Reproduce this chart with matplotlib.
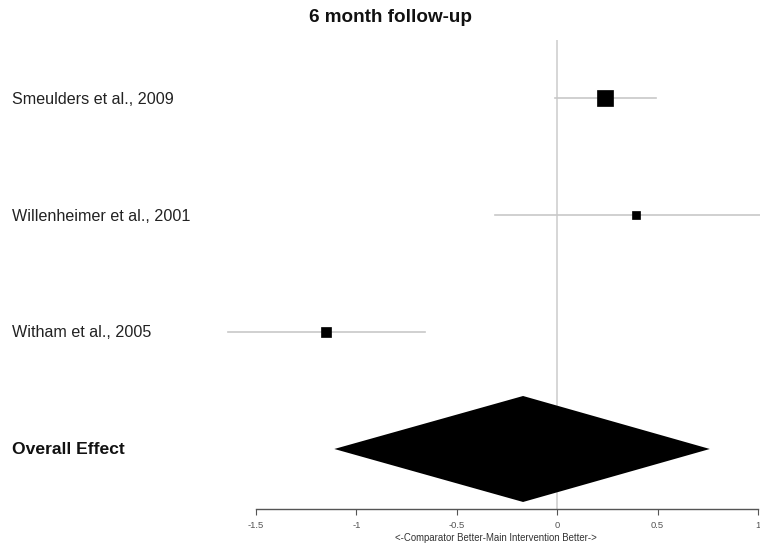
import matplotlib
matplotlib.use("Agg")
import matplotlib.pyplot as plt
import numpy as np

plt.rcParams["font.family"] = ["Liberation Sans", "DejaVu Sans"]

# Study-level effect sizes with 95% confidence intervals
studies = ["Smeulders et al., 2009", "Willenheimer et al., 2001", "Witham et al., 2005"]
effects = [0.24, 0.39, -1.15]
ci_lower = [-0.01, -0.31, -1.64]
ci_upper = [0.49, 1.25, -0.66]
weights = [61.0, 17.0, 22.0]

# Pooled estimate
overall_label = "Overall Effect"
overall_effect = -0.17
overall_lower = -1.11
overall_upper = 0.76

tick_values = [-1.5, -1, -0.5, 0, 0.5, 1]
tick_labels = ["-1.5", "-1", "-0.5", "0", "0.5", "1"]

W, H = 760, 549
fig = plt.figure(figsize=(W / 100, H / 100), dpi=100)
ax = fig.add_axes([256 / W, 40 / H, (758 - 256) / W, 469 / H])
ax.set_xlim(-1.5, 1)
ax.set_ylim(0.487, 4.496)

n = len(studies)
rows = np.arange(n, 0, -1) + 1  # study rows above the pooled row

# Line of no effect
ax.axvline(0, color="#d0d0d0", lw=1.2, zorder=1)

for y, est, lo, hi, w in zip(rows, effects, ci_lower, ci_upper, weights):
    ax.plot([lo, hi], [y, y], color="#c8c8c8", lw=1.2, clip_on=False, zorder=2)
    ax.plot(est, y, marker="s", color="black", markersize=1.4 * np.sqrt(w),
            markeredgewidth=0.5, clip_on=False, zorder=3)

# Pooled diamond
half_h = 0.453
ax.fill([overall_lower, overall_effect, overall_upper, overall_effect],
        [1, 1 + half_h, 1, 1 - half_h], color="black", lw=0, zorder=3)

# Axes styling
for side in ["top", "right", "left"]:
    ax.spines[side].set_visible(False)
ax.spines["bottom"].set_bounds(-1.5, 1)
ax.spines["bottom"].set_color("#555555")
ax.spines["bottom"].set_linewidth(1.0)
ax.set_yticks([])
ax.set_xticks(tick_values)
ax.set_xticklabels(tick_labels, fontsize=6.8, color="#555555")
ax.tick_params(axis="x", length=4, width=0.8, color="#555555", pad=5)
fig.text(496 / W, 1 - 538 / H, "<-Comparator Better-Main Intervention Better->",
         fontsize=6.9, color="#333333", ha="center", va="center")

# Row labels
to_fig = lambda y: fig.transFigure.inverted().transform(ax.transData.transform((0, y)))[1]
for y, name in zip(rows, studies):
    fig.text(12 / W, to_fig(y) - 1 / H, name, fontsize=11.6, va="center", ha="left",
             color="#222222")
fig.text(12 / W, to_fig(1) - 1 / H, overall_label, fontsize=12.6, fontweight="bold",
         va="center", ha="left", color="#111111")

fig.text(390 / W, 1 - 17 / H, "6 month follow-up", fontsize=13.6, fontweight="bold",
         ha="center", va="center", color="#111111")

fig.savefig("out.png", dpi=100)
